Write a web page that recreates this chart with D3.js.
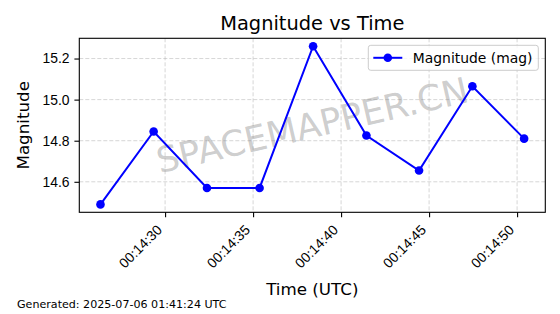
<!DOCTYPE html>
<html>
<head>
<meta charset="utf-8">
<script src="https://cdn.jsdelivr.net/npm/d3@7"></script>
<style>
body { margin: 0; background: #fff; }
svg { display: block; font-family: "DejaVu Sans", sans-serif; }
.grid line { stroke: #b0b0b0; stroke-opacity: 0.65; stroke-width: 0.8px; stroke-dasharray: 4,2; }
.axis path, .axis line { stroke: #000; stroke-width: 1.1px; }
.axis text { font-size: 13.9px; fill: #000; }
</style>
</head>
<body>
<script>
// chart data
var times = ["2025-07-06T00:14:26.33Z", "2025-07-06T00:14:29.35Z", "2025-07-06T00:14:32.38Z",
             "2025-07-06T00:14:35.37Z", "2025-07-06T00:14:38.41Z", "2025-07-06T00:14:41.44Z",
             "2025-07-06T00:14:44.43Z", "2025-07-06T00:14:47.46Z", "2025-07-06T00:14:50.40Z"];
var mags = [14.49, 14.845, 14.57, 14.57, 15.26, 14.825, 14.655, 15.065, 14.81];
var xTicks = ["2025-07-06T00:14:30Z", "2025-07-06T00:14:35Z", "2025-07-06T00:14:40Z",
              "2025-07-06T00:14:45Z", "2025-07-06T00:14:50Z"];
var yTicks = [14.6, 14.8, 15.0, 15.2];

var width = 560, height = 314;
var margin = {left: 79.3, right: 14.7, top: 38.3, bottom: 101.7};
var plotW = width - margin.left - margin.right,
    plotH = height - margin.top - margin.bottom;

var data = times.map(function(t, i) { return {t: new Date(t), m: mags[i]}; });

// matplotlib style 5% padding
var tExt = d3.extent(data, function(d) { return +d.t; });
var tPad = (tExt[1] - tExt[0]) * 0.05;
var mExt = d3.extent(mags);
var mPad = (mExt[1] - mExt[0]) * 0.05;

var x = d3.scaleUtc().domain([tExt[0] - tPad, tExt[1] + tPad]).range([0, plotW]);
var y = d3.scaleLinear().domain([mExt[0] - mPad, mExt[1] + mPad]).range([plotH, 0]);

var svg = d3.select("body").append("svg")
    .attr("width", width)
    .attr("height", height);

var g = svg.append("g").attr("transform", "translate(" + margin.left + "," + margin.top + ")");

// grid
var grid = g.append("g").attr("class", "grid");
grid.selectAll(".vx").data(xTicks).enter().append("line")
    .attr("x1", function(d) { return x(new Date(d)); })
    .attr("x2", function(d) { return x(new Date(d)); })
    .attr("y1", 0).attr("y2", plotH);
grid.selectAll(".hy").data(yTicks).enter().append("line")
    .attr("x1", 0).attr("x2", plotW)
    .attr("y1", function(d) { return y(d); })
    .attr("y2", function(d) { return y(d); });

// watermark
g.append("text")
    .attr("transform", "translate(" + plotW / 2 + "," + plotH / 2 + ") rotate(-13)")
    .attr("text-anchor", "middle")
    .attr("dy", "0.35em")
    .style("font-size", "35.5px")
    .style("fill", "#808080")
    .style("fill-opacity", 0.4)
    .text("SPACEMAPPER.CN");

// line + markers
var line = d3.line()
    .x(function(d) { return x(d.t); })
    .y(function(d) { return y(d.m); });

g.append("path")
    .datum(data)
    .attr("d", line)
    .attr("fill", "none")
    .attr("stroke", "#0000ff")
    .attr("stroke-width", 2);

g.selectAll(".dot").data(data).enter().append("circle")
    .attr("class", "dot")
    .attr("cx", function(d) { return x(d.t); })
    .attr("cy", function(d) { return y(d.m); })
    .attr("r", 4.3)
    .attr("fill", "#0000ff");

// axes
var xAxis = g.append("g").attr("class", "axis")
    .attr("transform", "translate(0," + plotH + ")")
    .call(d3.axisBottom(x)
        .tickValues(xTicks.map(function(d) { return new Date(d); }))
        .tickFormat(d3.utcFormat("%H:%M:%S"))
        .tickSize(4.9).tickPadding(4.9));
xAxis.select(".domain").remove();
xAxis.selectAll("text")
    .attr("text-anchor", "end")
    .attr("y", 0).attr("dy", "0.35em")
    .attr("transform", "translate(-6,15) rotate(-45)");

var yAxis = g.append("g").attr("class", "axis")
    .call(d3.axisLeft(y)
        .tickValues(yTicks)
        .tickFormat(d3.format(".1f"))
        .tickSize(4.9).tickPadding(4.9));
yAxis.select(".domain").remove();

// frame
g.append("rect")
    .attr("width", plotW).attr("height", plotH)
    .attr("fill", "none")
    .attr("stroke", "#000")
    .attr("stroke-width", 1.1);

// legend
var leg = g.append("g").attr("transform", "translate(" + (plotW - 177) + ",7)");
leg.append("rect")
    .attr("width", 170).attr("height", 25)
    .attr("rx", 2.5)
    .attr("fill", "#fff").attr("fill-opacity", 0.8)
    .attr("stroke", "#cccccc").attr("stroke-width", 1);
leg.append("line")
    .attr("x1", 5).attr("x2", 34).attr("y1", 12.5).attr("y2", 12.5)
    .attr("stroke", "#0000ff").attr("stroke-width", 2);
leg.append("circle")
    .attr("cx", 19.5).attr("cy", 12.5).attr("r", 4.3).attr("fill", "#0000ff");
leg.append("text")
    .attr("x", 44.5).attr("y", 12.5).attr("dy", "0.35em")
    .style("font-size", "13.9px")
    .text("Magnitude (mag)");

// titles
svg.append("text")
    .attr("x", margin.left + plotW / 2).attr("y", 30)
    .attr("text-anchor", "middle")
    .style("font-size", "19.4px")
    .text("Magnitude vs Time");

svg.append("text")
    .attr("transform", "translate(29," + (margin.top + plotH / 2) + ") rotate(-90)")
    .attr("text-anchor", "middle")
    .style("font-size", "16.7px")
    .text("Magnitude");

svg.append("text")
    .attr("x", margin.left + plotW / 2).attr("y", 295)
    .attr("text-anchor", "middle")
    .style("font-size", "16.7px")
    .text("Time (UTC)");

svg.append("text")
    .attr("x", 17).attr("y", 308)
    .style("font-size", "11.1px")
    .text("Generated: 2025-07-06 01:41:24 UTC");
</script>
</body>
</html>
